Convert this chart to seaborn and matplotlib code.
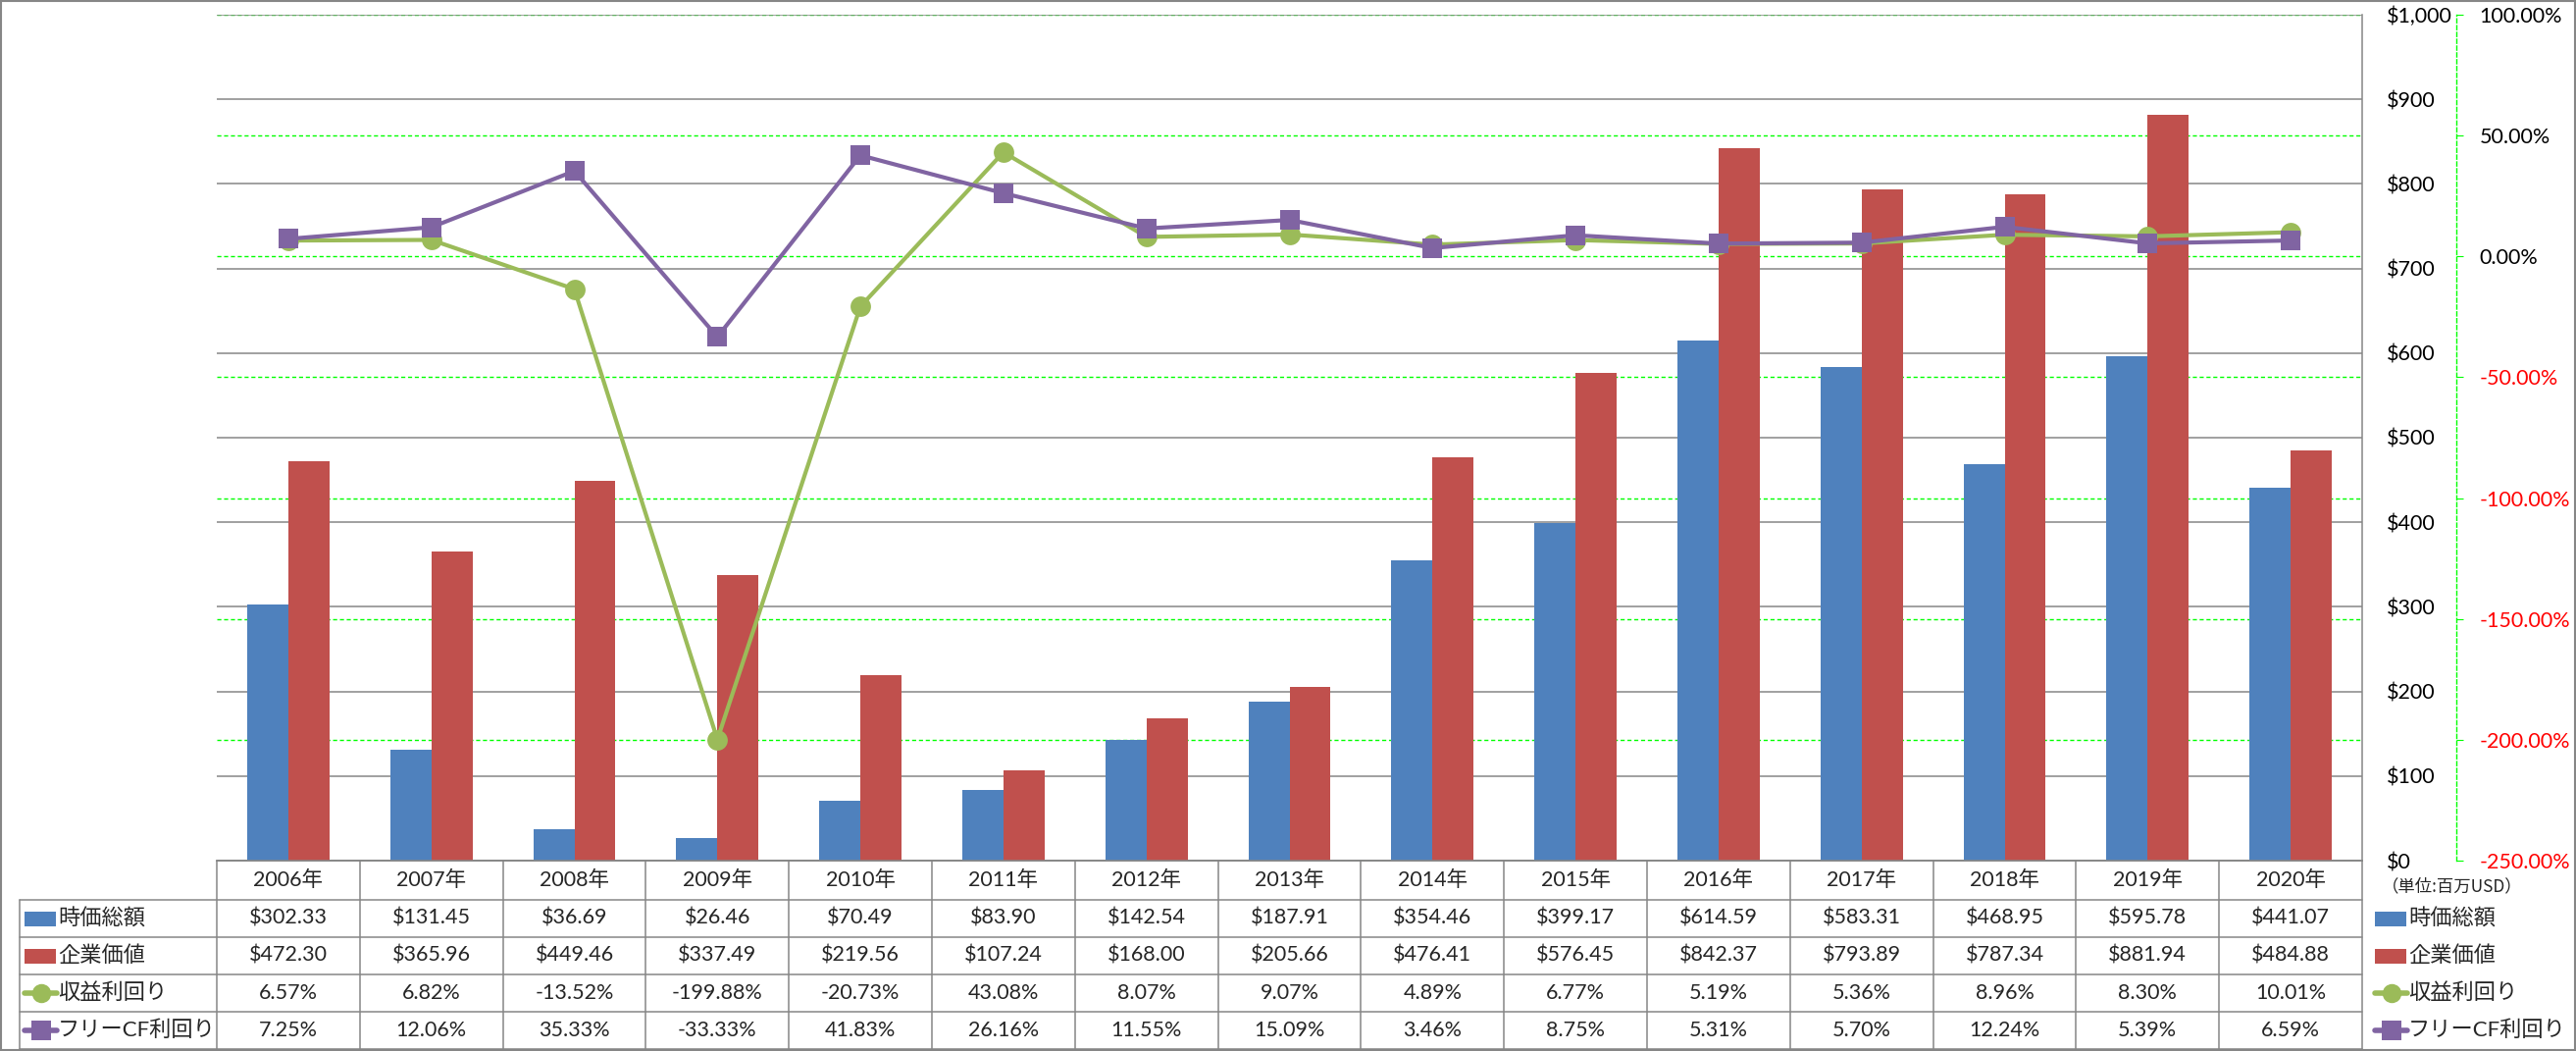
import matplotlib
matplotlib.use("Agg")
import matplotlib.pyplot as plt
from matplotlib.lines import Line2D
from matplotlib.patches import Rectangle
from matplotlib.transforms import blended_transform_factory
import numpy as np
import pandas as pd
import seaborn as sns

# ---- data ----
years = [2006, 2007, 2008, 2009, 2010, 2011, 2012, 2013, 2014, 2015, 2016, 2017, 2018, 2019, 2020]
year_labels = [f"{y}年" for y in years]
market_cap = [302.33, 131.45, 36.69, 26.46, 70.49, 83.90, 142.54, 187.91, 354.46,
              399.17, 614.59, 583.31, 468.95, 595.78, 441.07]
enterprise_value = [472.30, 365.96, 449.46, 337.49, 219.56, 107.24, 168.00, 205.66, 476.41,
                    576.45, 842.37, 793.89, 787.34, 881.94, 484.88]
earnings_yield = [6.57, 6.82, -13.52, -199.88, -20.73, 43.08, 8.07, 9.07, 4.89,
                  6.77, 5.19, 5.36, 8.96, 8.30, 10.01]
fcf_yield = [7.25, 12.06, 35.33, -33.33, 41.83, 26.16, 11.55, 15.09, 3.46,
             8.75, 5.31, 5.70, 12.24, 5.39, 6.59]

series_names = ["時価総額", "企業価値", "収益利回り", "フリーCF利回り"]
dollar_ticks = list(range(0, 1001, 100))
pct_ticks = list(range(-250, 101, 50))

BLUE, RED, GREEN, PURPLE = "#4F81BD", "#C0504D", "#9BBB59", "#8064A2"
GRID_GRAY = "#868686"
LIME = "#00FF00"

W, H = 2626, 1071
def X(px):
    return px / W
def Y(py):
    return 1 - py / H

sns.set_theme(style="white")
plt.rcParams["font.family"] = ["Lato", "Noto Sans CJK JP", "DejaVu Sans"]
FS = 15.5
LEG_FS = 16

fig = plt.figure(figsize=(W / 100, H / 100), dpi=100)
fig.patch.set_facecolor("white")

plot_l, plot_r, plot_t, plot_b = 221, 2408, 15, 877
rect = [X(plot_l), Y(plot_b), X(plot_r) - X(plot_l), Y(plot_t) - Y(plot_b)]

# percent axis (grid + ticks) sits behind the bars, lines sit on top
axp = fig.add_axes(rect)
ax = fig.add_axes(rect, sharex=axp)
axl = fig.add_axes(rect, sharex=axp)
axp.set_zorder(1)
ax.set_zorder(2)
axl.set_zorder(3)
ax.patch.set_visible(False)
axl.patch.set_visible(False)

# ---- bars ----
bars = pd.DataFrame({
    "year": year_labels * 2,
    "value": market_cap + enterprise_value,
    "series": [series_names[0]] * len(years) + [series_names[1]] * len(years),
})
sns.barplot(data=bars, x="year", y="value", hue="series", palette=[BLUE, RED],
            width=0.576, gap=0, saturation=1, linewidth=0, legend=False, ax=ax)
ax.set_ylim(0, 1000)
ax.set_xlim(-0.5, len(years) - 0.5)
ax.set_yticks(dollar_ticks, labels=[f"${v:,.0f}" for v in dollar_ticks])
ax.yaxis.tick_right()
ax.tick_params(axis="y", length=0, pad=18, labelsize=FS, labelcolor="black")
ax.tick_params(axis="x", length=0, labelbottom=False)
ax.set_xlabel("")
ax.set_ylabel("")
ax.set_axisbelow(True)
ax.yaxis.grid(True, color=GRID_GRAY, linewidth=1.1)
ax.xaxis.grid(False)
for s in ["left", "top"]:
    ax.spines[s].set_visible(False)
for s in ["right", "bottom"]:
    ax.spines[s].set_color(GRID_GRAY)
    ax.spines[s].set_linewidth(1.1)

# ---- percent axis ----
for s in ["left", "top", "bottom"]:
    axp.spines[s].set_visible(False)
axp.spines["right"].set_position(("outward", 96 * 0.72))
axp.spines["right"].set_color(LIME)
axp.spines["right"].set_linestyle((0, (3, 2)))
axp.spines["right"].set_linewidth(1.0)
axp.set_ylim(-250, 100)
axp.set_yticks(pct_ticks, labels=[f"{v:.2f}%" for v in pct_ticks])
axp.yaxis.tick_right()
axp.tick_params(axis="y", direction="out", length=5, width=0.8, color=LIME,
                pad=12, labelsize=FS)
axp.tick_params(axis="x", length=0, labelbottom=False)
axp.yaxis.grid(True, color=LIME, linewidth=1.0, linestyle=(0, (3, 2)))
axp.xaxis.grid(False)

# ---- yield lines ----
xpos = np.arange(len(years))
sns.lineplot(x=xpos, y=earnings_yield, color=GREEN, linewidth=3, marker="o",
             markersize=15, markeredgewidth=0, ax=axl)
sns.lineplot(x=xpos, y=fcf_yield, color=PURPLE, linewidth=3, marker="s",
             markersize=15, markeredgewidth=0, ax=axl)
axl.set_ylim(-250, 100)
axl.set_xlim(-0.5, len(years) - 0.5)
axl.set_xticks([])
axl.set_yticks([])
for s in axl.spines.values():
    s.set_visible(False)

# ---- data table ----
trans = blended_transform_factory(ax.transData, fig.transFigure)
row_edges = [917, 955, 993, 1031, 1069]
line_kw = dict(color=GRID_GRAY, linewidth=1.1)

fig.add_artist(Line2D([X(plot_l), X(plot_r)], [Y(plot_b), Y(plot_b)], transform=fig.transFigure, **line_kw))
for ry in row_edges:
    fig.add_artist(Line2D([X(20), X(plot_r)], [Y(ry), Y(ry)], transform=fig.transFigure, **line_kw))
fig.add_artist(Line2D([X(20), X(20)], [Y(917), Y(1069)], transform=fig.transFigure, **line_kw))
for i in range(len(years) + 1):
    fig.add_artist(Line2D([i - 0.5, i - 0.5], [Y(plot_b), Y(1069)], transform=trans, **line_kw))

for i, lab in enumerate(year_labels):
    fig.text(i, Y(897), lab, transform=trans, ha="center", va="center", fontsize=FS)

rows = [
    [f"${v:,.2f}" for v in market_cap],
    [f"${v:,.2f}" for v in enterprise_value],
    [f"{v:.2f}%" for v in earnings_yield],
    [f"{v:.2f}%" for v in fcf_yield],
]
for r, cells in enumerate(rows):
    cy = Y((row_edges[r] + row_edges[r + 1]) / 2)
    for i, txt in enumerate(cells):
        fig.text(i, cy, txt, transform=trans, ha="center", va="center", fontsize=FS)

keys = [("bar", BLUE, None), ("bar", RED, None), ("line", GREEN, "o"), ("line", PURPLE, "s")]


def draw_key(x0, cy_px, kind, color, marker):
    if kind == "bar":
        fig.add_artist(Rectangle((X(x0), Y(cy_px + 8)), X(32), 15 / H, transform=fig.transFigure,
                                 facecolor=color, edgecolor="none"))
    else:
        fig.add_artist(Line2D([X(x0), X(x0 + 33)], [Y(cy_px), Y(cy_px)], transform=fig.transFigure,
                              color=color, linewidth=4))
        fig.add_artist(Line2D([X(x0 + 16.5)], [Y(cy_px)], transform=fig.transFigure,
                              color=color, marker=marker, markersize=14, markeredgewidth=0,
                              linestyle="none"))


for r, (name, (kind, color, marker)) in enumerate(zip(series_names, keys)):
    cy = (row_edges[r] + row_edges[r + 1]) / 2
    # row header inside the table
    draw_key(25, cy, kind, color, marker)
    fig.text(X(59), Y(cy), name, ha="left", va="center", fontsize=LEG_FS)
    # legend on the right
    draw_key(2421, cy, kind, color, marker)
    fig.text(X(2455), Y(cy), name, ha="left", va="center", fontsize=LEG_FS)

fig.text(X(2428), Y(903), "（単位:百万USD）", ha="left", va="center", fontsize=12.5,
         family=["Noto Sans CJK JP"])

# outer frame
fig.add_artist(Rectangle((0.0004, 0.0008), 0.9992, 0.9984, transform=fig.transFigure,
                         facecolor="none", edgecolor=GRID_GRAY, linewidth=1.5))

# negative percentages in red (after ticks are final)
fig.canvas.draw()
for tick, v in zip(axp.yaxis.get_major_ticks(), axp.get_yticks()):
    tick.label2.set_color("red" if v < 0 else "black")

fig.savefig("out.png", dpi=100)
plt.close(fig)
